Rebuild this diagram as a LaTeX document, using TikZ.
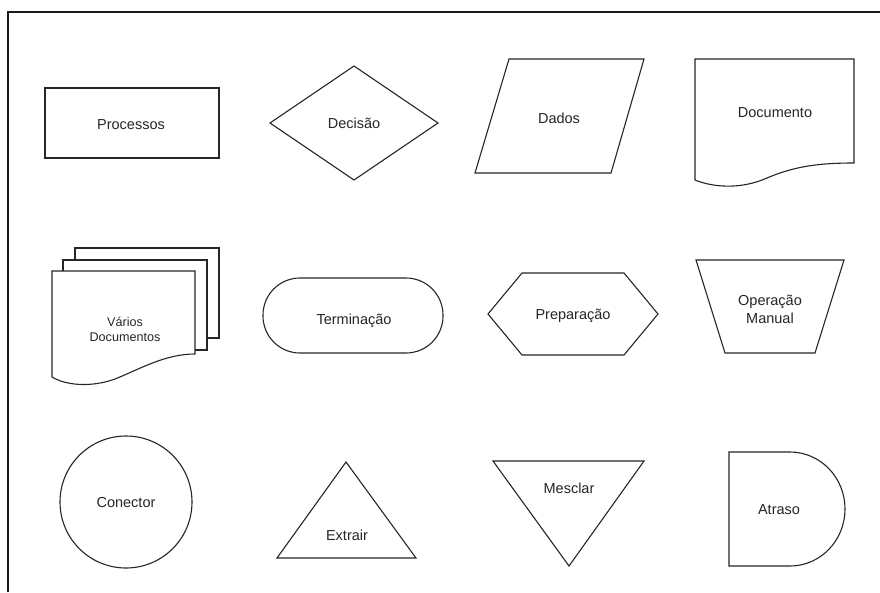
\documentclass[tikz,border=0pt]{standalone}
\usepackage{fontspec}
\setmainfont{Liberation Sans}
\begin{document}
\begin{tikzpicture}[x=1pt,y=-1pt,
  shp/.style={draw=black!85, line width=1.1pt, fill=white, line join=miter},
  framel/.style={draw=black!90, line width=2pt},
  lbl/.style={font=\fontsize{14.5}{17}\selectfont, text=black!85, anchor=base, inner sep=0pt},
  lbltwo/.style={text=black!85, anchor=center, inner sep=0pt, align=center}]
\useasboundingbox[fill=white] (0,0) rectangle (880,592);
% frame
\draw[framel] (8,592) -- (8,12) -- (880,12);
% Processos
\draw[shp] (45,88) rectangle (219,158);
\node[lbl] (proc) at (131,129) {Processos};
% Decisao
\draw[shp] (270,123) -- (354,66) -- (438,123) -- (354,180) -- cycle;
\node[lbl] (dec) at (354,128) {Decisão};
% Dados
\draw[shp] (509,59) -- (644,59) -- (611,173) -- (475,173) -- cycle;
\node[lbl] (dad) at (559,123) {Dados};
% Documento
\draw[shp] (695,180) -- (695,59) -- (854,59) -- (854,163)
  .. controls (820,163) and (795,166) .. (767,178)
  .. controls (740,190) and (712,187) .. (695,180) -- cycle;
\node[lbl] (doc) at (775,117) {Documento};
% Varios Documentos
\draw[shp] (75,248) rectangle (219,338);
\draw[shp] (63,260) rectangle (207,350);
\draw[shp] (52,377) -- (52,271) -- (195,271) -- (195,354)
  .. controls (165,354) and (140,369) .. (115,379)
  .. controls (90,388) and (65,385) .. (52,377) -- cycle;
\node[lbltwo, font=\fontsize{12.6}{15}\selectfont] (vdoc) at (125,329) {Vários\\Documentos};
% Terminacao
\draw[shp, rounded corners=37pt] (263,278) rectangle (443,353);
\node[lbl] (term) at (354,324) {Terminação};
% Preparacao
\draw[shp] (488,314) -- (522,273) -- (624,273) -- (658,314) -- (624,355) -- (522,355) -- cycle;
\node[lbl] (prep) at (573,319) {Preparação};
% Operacao Manual
\draw[shp] (696,260) -- (844,260) -- (815,353) -- (725,353) -- cycle;
\node[lbltwo, font=\fontsize{14.5}{18}\selectfont] (opm) at (770,309) {Operação\\Manual};
% Conector
\draw[shp] (126,502) circle[radius=66pt];
\node[lbl] (con) at (126,507) {Conector};
% Extrair
\draw[shp] (346,462) -- (416,558) -- (277,558) -- cycle;
\node[lbl] (ext) at (347,540) {Extrair};
% Mesclar
\draw[shp] (493,461) -- (644,461) -- (569,566) -- cycle;
\node[lbl] (mes) at (569,493) {Mesclar};
% Atraso
\draw[shp] (729,452) -- (790,452)
  .. controls (820.4,452) and (845,477.5) .. (845,509)
  .. controls (845,540.5) and (820.4,566) .. (790,566)
  -- (729,566) -- cycle;
\node[lbl] (atr) at (779,514) {Atraso};
\end{tikzpicture}
\end{document}
